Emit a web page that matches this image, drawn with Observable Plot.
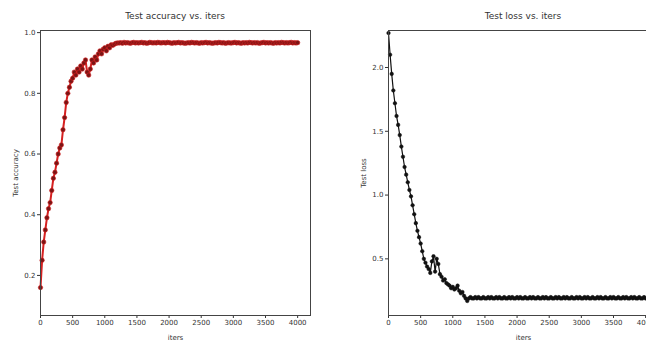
<!DOCTYPE html>
<html>
<head>
<meta charset="utf-8">
<script src="https://cdn.jsdelivr.net/npm/d3@7"></script>
<script src="https://cdn.jsdelivr.net/npm/@observablehq/plot@0.6"></script>
<style>
  html, body { margin: 0; padding: 0; background: #fff; }
  #wrap { position: relative; width: 646px; height: 345px; overflow: hidden; background: #fff; font-family: "DejaVu Sans", sans-serif; }
  .panel { position: absolute; top: 0; }
  .panel svg { max-width: none !important; }
  .title { position: absolute; top: 11px; font-size: 9px; color: #333; text-align: center; }
</style>
</head>
<body>
<div id="wrap">
  <div id="left" class="panel" style="left:0px;width:330px;"></div>
  <div id="right" class="panel" style="left:330px;width:340px;"></div>
  <div class="title" style="left:40px;width:270px;">Test accuracy vs. iters</div>
  <div class="title" style="left:388px;width:270px;">Test loss vs. iters</div>
</div>
<script>
const STEP = 25;
const xTicks = [0, 500, 1000, 1500, 2000, 2500, 3000, 3500, 4000];
const accTicks = [0.2, 0.4, 0.6, 0.8, 1.0];
const lossTicks = [0.5, 1.0, 1.5, 2.0];

const accuracyEarly = [0.16,0.25,0.31,0.35,0.39,0.42,0.44,0.48,0.52,0.54,0.57,0.60,0.62,0.63,0.68,0.72,0.77,0.80,0.82,0.84,0.85,0.87,0.86,0.88,0.87,0.89,0.88,0.90,0.91,0.87,0.86,0.88,0.91,0.90,0.92,0.91,0.93,0.94,0.93,0.945,0.95,0.94,0.955,0.95,0.96,0.958,0.962,0.965,0.966];
const accuracyPlateau = [
0.966,0.967,0.965,0.968,0.966,0.967,0.966,0.965,0.967,0.968,0.966,0.967,0.966,0.967,
0.968,0.966,0.967,0.965,0.966,0.968,0.967,0.966,0.967,0.966,0.968,0.967,0.966,0.967,
0.967,0.966,0.968,0.967,0.966,0.965,0.967,0.966,0.967,0.968,0.966,0.967,0.966,0.965,
0.966,0.967,0.966,0.968,0.967,0.966,0.967,0.966,0.965,0.967,0.966,0.967,0.968,0.966,
0.967,0.966,0.965,0.966,0.967,0.966,0.968,0.967,0.966,0.967,0.965,0.966,0.967,0.966,
0.966,0.967,0.968,0.966,0.967,0.966,0.965,0.967,0.966,0.967,0.966,0.968,0.967,0.966,
0.967,0.966,0.967,0.965,0.966,0.967,0.968,0.966,0.967,0.966,0.967,0.966,0.965,0.967,
0.966,0.967,0.966,0.968,0.967,0.966,0.967,0.966,0.967,0.968,0.966,0.967,0.966,0.967];

const lossEarly = [2.27,2.10,1.95,1.82,1.72,1.62,1.55,1.47,1.38,1.30,1.22,1.16,1.10,1.04,0.99,0.92,0.85,0.78,0.72,0.67,0.62,0.56,0.50,0.47,0.44,0.42,0.39,0.48,0.52,0.40,0.50,0.46,0.38,0.36,0.33,0.34,0.31,0.30,0.29,0.27,0.28,0.26,0.27,0.29,0.25,0.23,0.24,0.21,0.19,0.17];
const lossPlateau = [
0.19,0.20,0.19,0.19,0.20,0.19,0.20,0.19,0.19,0.20,0.19,0.19,0.20,0.19,
0.20,0.19,0.19,0.20,0.19,0.20,0.19,0.19,0.20,0.19,0.19,0.20,0.19,0.20,
0.19,0.19,0.20,0.19,0.20,0.19,0.19,0.20,0.19,0.19,0.20,0.19,0.20,0.19,
0.19,0.20,0.19,0.19,0.20,0.19,0.20,0.19,0.19,0.20,0.19,0.19,0.20,0.19,
0.20,0.19,0.19,0.20,0.19,0.20,0.19,0.19,0.20,0.19,0.19,0.20,0.19,0.20,
0.19,0.19,0.20,0.19,0.20,0.19,0.19,0.20,0.19,0.19,0.20,0.19,0.20,0.19,
0.19,0.20,0.19,0.19,0.20,0.19,0.20,0.19,0.19,0.20,0.19,0.19,0.20,0.19,
0.20,0.19,0.19,0.20,0.19,0.20,0.19,0.19,0.20,0.19,0.19,0.20,0.19];

const accuracy = accuracyEarly.concat(accuracyPlateau);
const loss = lossEarly.concat(lossPlateau);
const accData = accuracy.map((v, i) => ({iter: i * STEP, value: v}));
const lossData = loss.map((v, i) => ({iter: i * STEP, value: v}));

const common = {
  height: 345,
  marginTop: 30,
  marginBottom: 30,
  style: {fontFamily: "DejaVu Sans, sans-serif", fontSize: "7px", color: "#333", background: "transparent", maxWidth: "none"}
};

function xAxis() {
  return Plot.axisX({ticks: xTicks, tickFormat: d => String(d), tickSize: 3, tickPadding: 2,
    label: "iters", labelAnchor: "center", labelArrow: "none", labelOffset: 24, stroke: "#333"});
}

const left = Plot.plot({
  ...common,
  width: 330,
  marginLeft: 40,
  marginRight: 20,
  x: {domain: [0, 4200]},
  y: {domain: [0.068, 1.007]},
  marks: [
    xAxis(),
    Plot.axisY({ticks: accTicks, tickFormat: d => d.toFixed(1), tickSize: 3, tickPadding: 2,
      label: "Test accuracy", labelAnchor: "center", labelArrow: "none", labelOffset: 27, stroke: "#333"}),
    Plot.line(accData, {x: "iter", y: "value", stroke: "#d62020", strokeWidth: 2}),
    Plot.dot(accData, {x: "iter", y: "value", r: 2.2, fill: "#7a1515", stroke: "#d62020", strokeWidth: 0.6}),
    Plot.frame({stroke: "#444", strokeWidth: 1})
  ]
});

const right = Plot.plot({
  ...common,
  width: 340,
  marginLeft: 58,
  marginRight: 12,
  x: {domain: [0, 4200]},
  y: {domain: [0.056, 2.29]},
  marks: [
    xAxis(),
    Plot.axisY({ticks: lossTicks, tickFormat: d => d.toFixed(1), tickSize: 3, tickPadding: 2,
      label: "Test loss", labelAnchor: "center", labelArrow: "none", labelOffset: 27, stroke: "#333"}),
    Plot.line(lossData, {x: "iter", y: "value", stroke: "#111", strokeWidth: 1.2}),
    Plot.dot(lossData, {x: "iter", y: "value", r: 1.8, fill: "#111", stroke: "#111", strokeWidth: 0.5}),
    Plot.frame({stroke: "#444", strokeWidth: 1})
  ]
});

document.getElementById("left").appendChild(left);
document.getElementById("right").appendChild(right);
</script>
</body>
</html>
